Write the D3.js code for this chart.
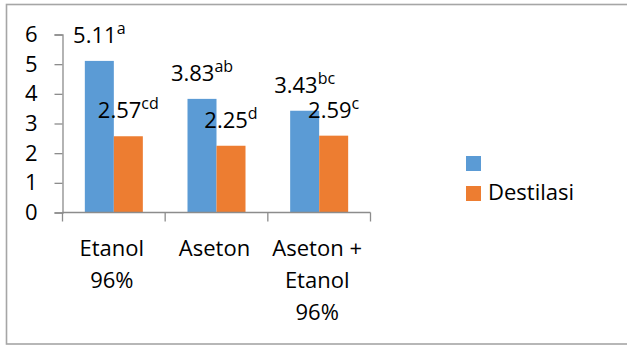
<!DOCTYPE html>
<html>
<head>
<meta charset="utf-8">
<script src="https://cdn.jsdelivr.net/npm/d3@7"></script>
<style>
  html, body { margin: 0; padding: 0; background: #ffffff; }
  svg { display: block; font-family: "Open Sans", sans-serif; }
</style>
</head>
<body>
<script>
// Categories (multi-line axis labels are split on "|")
const categories = ["Etanol|96%", "Aseton", "Aseton +|Etanol|96%"];
// Series names: the first series has no name in the legend
const seriesNames = ["", "Destilasi"];
const seriesColors = ["#5b9bd5", "#ed7d31"];
// Values per series
const seriesA = [5.11, 3.83, 3.43];
const seriesB = [2.57, 2.25, 2.59];
// Significance letters shown next to each value
const lettersA = ["a", "ab", "bc"];
const lettersB = ["cd", "d", "c"];
// Y axis ticks
const yTicks = [0, 1, 2, 3, 4, 5, 6];

const W = 627, H = 347;
const svg = d3.select("body").append("svg").attr("width", W).attr("height", H);

// Chart frame (extends past the right edge)
svg.append("rect")
  .attr("x", 6.5).attr("y", 4.5)
  .attr("width", 640).attr("height", 339.5)
  .attr("fill", "#ffffff")
  .attr("stroke", "#a6a6a6").attr("stroke-width", 1.6);

const plot = { left: 62.5, right: 370.5, top: 34.5, bottom: 212.5 };

const y = d3.scaleLinear().domain([0, 6]).range([plot.bottom, plot.top]);
const x0 = d3.scaleBand().domain(categories).range([plot.left, plot.right]).padding(0);
const x1 = d3.scaleBand().domain([0, 1]).range([0, x0.bandwidth()])
  .paddingInner(0).paddingOuter(0.77);

const axisColor = "#8c8c8c";
const fontSize = 22;

// Y axis
const yAxis = svg.append("g").attr("transform", `translate(${plot.left},0)`)
  .call(d3.axisLeft(y).tickValues(yTicks).tickSize(8).tickPadding(17).tickFormat(d3.format("d")));
yAxis.select(".domain").attr("stroke", axisColor).attr("stroke-width", 1.3);
yAxis.selectAll(".tick line").attr("stroke", axisColor).attr("stroke-width", 1.3);
yAxis.selectAll(".tick text")
  .attr("fill", "#000").attr("font-size", fontSize)
  .attr("font-family", "'Open Sans', sans-serif");

// Bars
const data = categories.map((c, i) => ({
  cat: c,
  vals: [
    { s: 0, v: seriesA[i], letter: lettersA[i] },
    { s: 1, v: seriesB[i], letter: lettersB[i] }
  ]
}));

const groups = svg.append("g").selectAll("g").data(data).join("g")
  .attr("transform", d => `translate(${x0(d.cat)},0)`);

groups.selectAll("rect").data(d => d.vals).join("rect")
  .attr("x", d => x1(d.s))
  .attr("width", x1.bandwidth())
  .attr("y", d => y(d.v))
  .attr("height", d => y(0) - y(d.v))
  .attr("fill", d => seriesColors[d.s]);

// X axis (category boundaries as ticks)
const xAxisG = svg.append("g");
xAxisG.append("line")
  .attr("x1", plot.left).attr("x2", plot.right)
  .attr("y1", plot.bottom).attr("y2", plot.bottom)
  .attr("stroke", axisColor).attr("stroke-width", 1.3);
const bounds = categories.map(c => x0(c)).concat([x0(categories[categories.length - 1]) + x0.bandwidth()]);
xAxisG.selectAll("line.tk").data(bounds).join("line").attr("class", "tk")
  .attr("x1", d => d).attr("x2", d => d)
  .attr("y1", plot.bottom).attr("y2", plot.bottom + 9)
  .attr("stroke", axisColor).attr("stroke-width", 1.3);

// Category labels
xAxisG.selectAll("text.cat").data(categories).join("text").attr("class", "cat")
  .attr("font-size", fontSize).attr("fill", "#000").attr("text-anchor", "middle")
  .each(function (c) {
    const cx = x0(c) + x0.bandwidth() / 2 - 2;
    c.split("|").forEach((line, k) => {
      d3.select(this).append("tspan")
        .attr("x", cx).attr("y", 256 + k * 32)
        .text(line);
    });
  });

// Value labels with superscript letters
groups.selectAll("text.val").data(d => d.vals).join("text").attr("class", "val")
  .attr("text-anchor", "middle")
  .attr("fill", "#000")
  .attr("font-size", fontSize)
  .attr("x", d => x1(d.s) + x1.bandwidth() / 2)
  .attr("y", d => y(d.v) - 18)
  .each(function (d) {
    const t = d3.select(this);
    t.append("tspan").text(d3.format(".2f")(d.v));
    t.append("tspan").attr("font-size", 16).attr("dy", -9).text(d.letter);
  });

// Legend
const legend = svg.append("g");
seriesNames.forEach((name, i) => {
  legend.append("rect")
    .attr("x", 466).attr("y", 156 + i * 30)
    .attr("width", 15).attr("height", 15)
    .attr("fill", seriesColors[i]);
  legend.append("text")
    .attr("x", 488).attr("y", 171 + i * 30 - 1)
    .attr("font-size", fontSize).attr("fill", "#000")
    .text(name);
});
</script>
</body>
</html>
